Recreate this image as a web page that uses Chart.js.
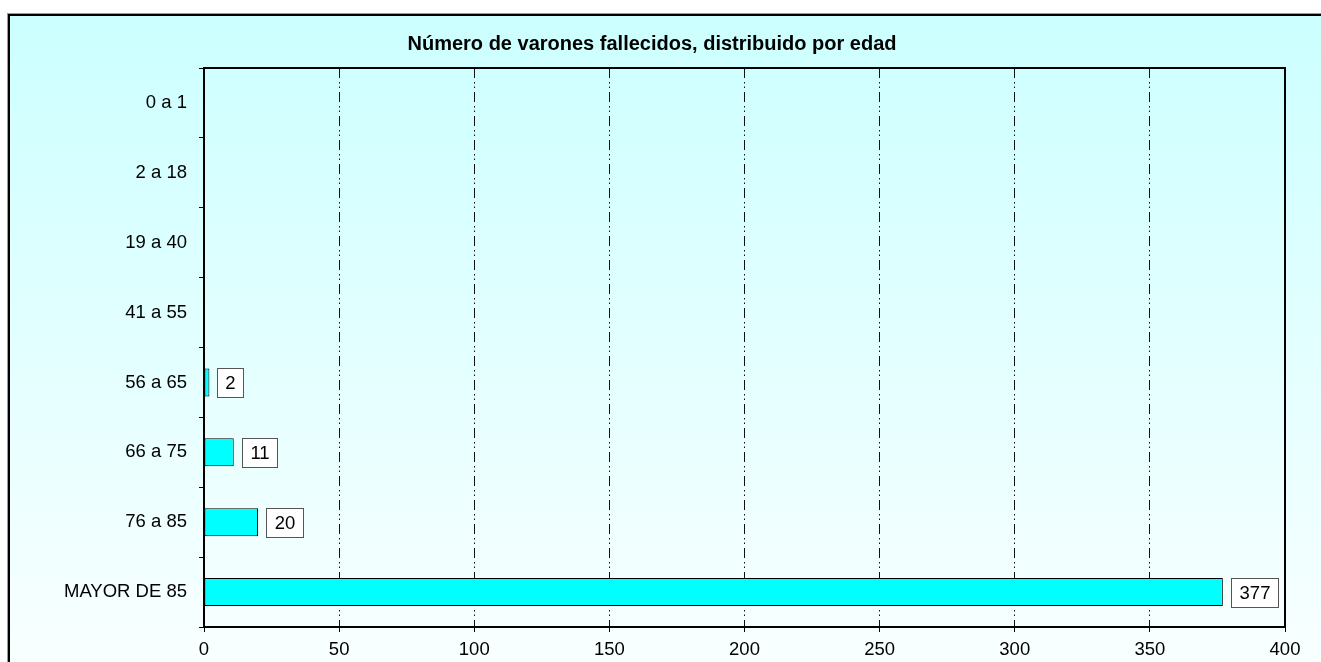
<!DOCTYPE html>
<html>
<head>
<meta charset="utf-8">
<title>Varones fallecidos por edad</title>
<script src="https://cdn.jsdelivr.net/npm/chart.js@4.4.1/dist/chart.umd.min.js"></script>
<style>
html,body{margin:0;padding:0;background:#ffffff;overflow:hidden;}
#wrap{width:1321px;height:662px;position:relative;}
</style>
</head>
<body>
<div id="wrap"><canvas id="edadChart" width="1321" height="662"></canvas></div>
<script>

// ================================
// Data
// ================================

const titleText="Número de varones fallecidos, distribuido por edad";

const edades=["0 a 1","2 a 18","19 a 40","41 a 55","56 a 65","66 a 75","76 a 85","MAYOR DE 85"];

const fallecidos=[0,0,0,0,2,11,20,377];

const xTicks=[0,50,100,150,200,250,300,350,400];

const FONT="'Liberation Sans', Arial, sans-serif";

// ================================
// Background + frame + title
// ================================

const backPlugin={

id:"backPlugin",

beforeDraw(chart){

const ctx=chart.ctx;

ctx.save();

const g=ctx.createLinearGradient(0,14,0,662);
g.addColorStop(0,"#ccffff");
g.addColorStop(1,"#f9ffff");

ctx.fillStyle=g;
ctx.fillRect(9,15,1321,662);

ctx.strokeStyle="#9a9a9a";
ctx.lineWidth=1;
ctx.strokeRect(7.5,13.5,1330,700);

ctx.strokeStyle="#000000";
ctx.lineWidth=2;
ctx.strokeRect(9,15,1330,700);

ctx.restore();

},

afterDraw(chart){

const ctx=chart.ctx;
const a=chart.chartArea;

ctx.save();

// plot frame top and right
ctx.strokeStyle="#000000";
ctx.lineWidth=2;
ctx.beginPath();
ctx.moveTo(a.left,a.top);
ctx.lineTo(a.right,a.top);
ctx.lineTo(a.right,a.bottom);
ctx.stroke();

// title
ctx.fillStyle="#000000";
ctx.font="bold 20px "+FONT;
ctx.textAlign="center";
ctx.textBaseline="alphabetic";
ctx.fillText(titleText,652,50);

ctx.restore();

}

};

// ================================
// Value boxes
// ================================

const boxPlugin={

id:"boxPlugin",

afterDatasetsDraw(chart){

const ctx=chart.ctx;
const meta=chart.getDatasetMeta(0);

ctx.save();
ctx.font="18.5px "+FONT;
ctx.textBaseline="middle";
ctx.textAlign="center";

meta.data.forEach(function(bar,i){

const v=fallecidos[i];

if(!v){return;}

const txt=String(v);
const w=Math.round(ctx.measureText(txt).width)+16;
const h=29;
const x=Math.round(bar.x)+8;
const y=Math.round(bar.y-h/2);

ctx.fillStyle="#ffffff";
ctx.fillRect(x,y,w,h);
ctx.strokeStyle="#555555";
ctx.lineWidth=1;
ctx.strokeRect(x+0.5,y+0.5,w,h);

ctx.fillStyle="#000000";
ctx.fillText(txt,x+w/2+0.5,y+h/2+1);

});

ctx.restore();

}

};

// ================================
// Chart
// ================================

new Chart(

document.getElementById("edadChart"),

{

type:"bar",

data:{

labels:edades,

datasets:[{

data:fallecidos,

backgroundColor:"#00ffff",

borderColor:"#000000",

borderWidth:1,

borderSkipped:false,

barPercentage:0.4,

categoryPercentage:1

}]

},

options:{

indexAxis:"y",

responsive:false,

animation:false,

devicePixelRatio:1,

layout:{

padding:{left:0,top:68,right:36,bottom:0}

},

plugins:{

legend:{display:false},

title:{display:false},

tooltip:{enabled:false}

},

scales:{

x:{

type:"linear",

min:0,

max:400,

afterBuildTicks(scale){

scale.ticks=xTicks.map(function(v){return {value:v};});

},

afterFit(scale){

scale.height=35;

},

grid:{

color:"#111111",

lineWidth:1,

tickLength:5,

tickColor:"#000000",

tickBorderDash:[]

},

border:{

display:true,

color:"#000000",

width:2,

dash:[10,4,1.5,3,1.5,4]

},

ticks:{

color:"#000000",

padding:7,

maxRotation:0,

font:{family:FONT,size:18.5}

}

},

y:{

afterFit(scale){

scale.width=204;

},

grid:{

drawOnChartArea:false,

tickLength:5,

color:"#000000",

lineWidth:1

},

border:{

display:true,

color:"#000000",

width:2

},

ticks:{

color:"#000000",

padding:12,

font:{family:FONT,size:18.5}

}

}

}

},

plugins:[backPlugin,boxPlugin]

}

);

</script>
</body>
</html>
